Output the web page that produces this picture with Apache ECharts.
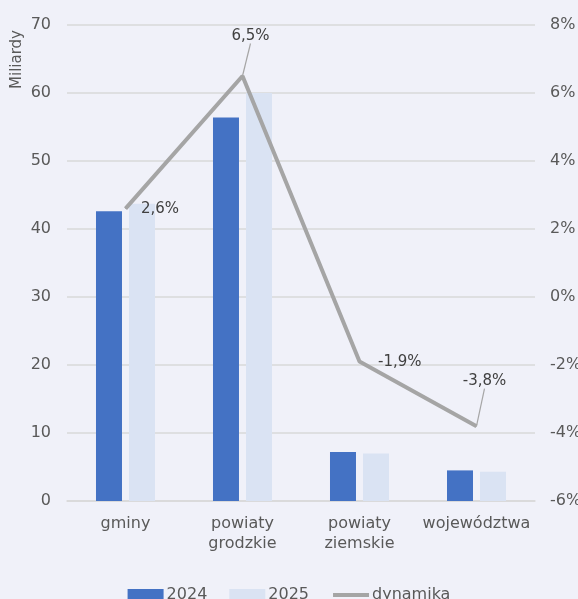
<!DOCTYPE html>
<html><head><meta charset="utf-8">
<script src="https://cdn.jsdelivr.net/npm/echarts@6/dist/echarts.min.js"></script>
<style>html,body{margin:0;padding:0;background:#f0f1f9}#c{width:578px;height:599px}</style>
</head><body><div id="c"></div>
<script>
const categories = ['gminy', 'powiaty\ngrodzkie', 'powiaty\nziemskie', 'województwa'];
const values2024 = [42.6, 56.4, 7.2, 4.5];
const values2025 = [43.7, 60.0, 7.0, 4.3];
const dynamika = [2.6, 6.5, -1.9, -3.8];
const leftTicks = {min: 0, max: 70, interval: 10};
const rightTicks = {min: -6, max: 8, interval: 2};

const FONT = 'DejaVu Sans';
const labelCfg = [
  {position: 'right', distance: 15, line: false, dy: 1},
  {position: 'top', distance: 5, line: true, dx: 8, dy: -27},
  {position: 'right', distance: 18, line: false, dy: 1},
  {position: 'top', distance: 5, line: true, dx: 8, dy: -32}
];
const lineData = dynamika.map((v, i) => ({
  value: v,
  label: {position: labelCfg[i].position, distance: labelCfg[i].distance},
  labelLine: {show: labelCfg[i].line}
}));

const chart = echarts.init(document.getElementById('c'));
chart.setOption({
  backgroundColor: '#f0f1f9',
  animation: false,
  textStyle: {fontFamily: FONT},
  grid: {left: 67, right: 43, top: 25, bottom: 98, outerBoundsMode: 'none', containLabel: false},
  graphic: [{
    type: 'text', left: 10, top: 30, rotation: Math.PI / 2,
    style: {text: 'Miliardy', fill: '#595959', font: '15px ' + FONT}
  }],
  legend: {
    top: 582, left: 'center', itemGap: 22, itemWidth: 36, itemHeight: 12,
    textStyle: {color: '#595959', fontSize: 16, fontFamily: FONT, padding: [0, 0, 0, -2]},
    data: [
      {name: '2024', icon: 'rect'},
      {name: '2025', icon: 'rect'},
      {name: 'dynamika', itemStyle: {opacity: 0}, lineStyle: {width: 4, color: '#a5a5a5'}}
    ]
  },
  xAxis: {
    type: 'category', data: categories,
    axisLine: {lineStyle: {color: '#d9d9d9', width: 1.5}},
    axisTick: {show: false},
    axisLabel: {color: '#595959', fontSize: 16, lineHeight: 20, margin: 13, interval: 0}
  },
  yAxis: [{
    type: 'value', min: leftTicks.min, max: leftTicks.max, interval: leftTicks.interval,
    axisLabel: {color: '#595959', fontSize: 16, margin: 16},
    splitLine: {lineStyle: {color: '#d9d9d9', width: 1.5}},
    axisLine: {show: false}, axisTick: {show: false}
  }, {
    type: 'value', min: rightTicks.min, max: rightTicks.max, interval: rightTicks.interval,
    position: 'right',
    axisLabel: {color: '#595959', fontSize: 16, margin: 15, formatter: '{value}%'},
    splitLine: {show: false}, axisLine: {show: false}, axisTick: {show: false}
  }],
  series: [{
    name: '2024', type: 'bar', data: values2024, barWidth: 26, barGap: '27%',
    itemStyle: {color: '#4472c4'}
  }, {
    name: '2025', type: 'bar', data: values2025, barWidth: 26,
    itemStyle: {color: '#dae3f3'}
  }, {
    name: 'dynamika', type: 'line', yAxisIndex: 1, data: lineData,
    symbol: 'circle', symbolSize: 1, showSymbol: true,
    itemStyle: {color: '#a5a5a5'},
    lineStyle: {color: '#a5a5a5', width: 4},
    label: {
      show: true, color: '#404040', fontSize: 15,
      formatter: p => String(p.value).replace('.', ',') + '%'
    },
    labelLine: {lineStyle: {color: '#a5a5a5', width: 1.2}},
    labelLayout: p => {
      const c = labelCfg[p.dataIndex];
      return {dx: c.dx || 0, dy: c.dy || 0};
    },
    z: 5
  }]
});
</script></body></html>
